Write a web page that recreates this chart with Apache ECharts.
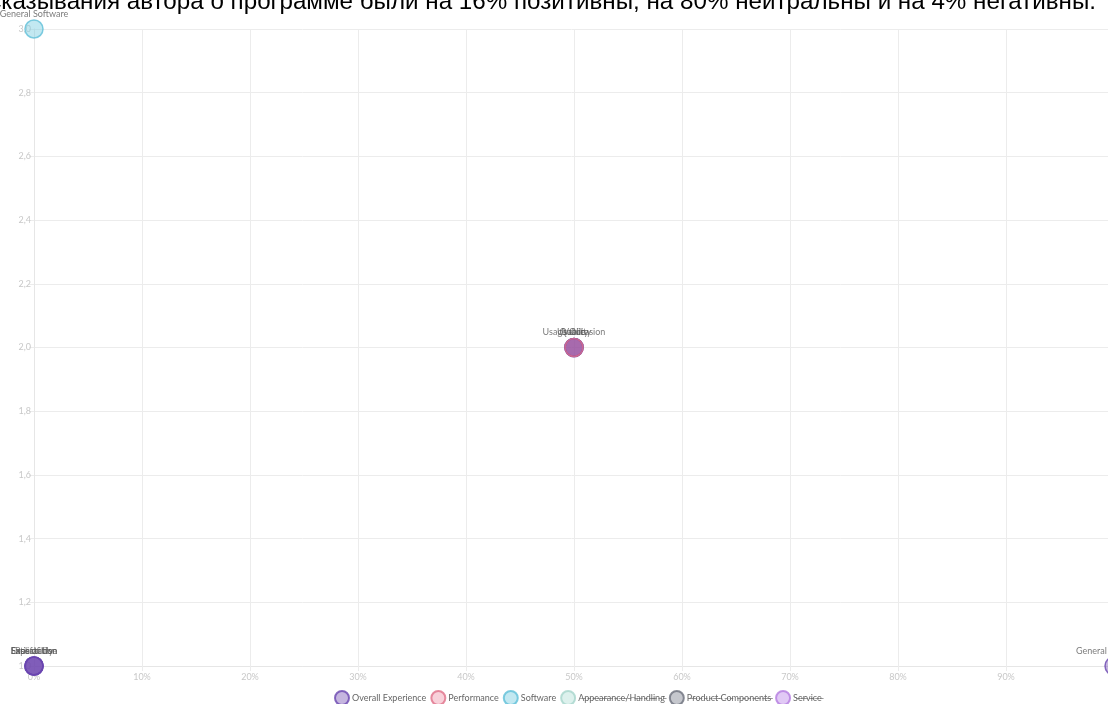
<!DOCTYPE html>
<html>
<head>
<meta charset="utf-8">
<script src="https://cdn.jsdelivr.net/npm/echarts@6/dist/echarts.min.js"></script>
<style>
  html, body { margin: 0; padding: 0; background: #fff; }
  #chart { width: 1108px; height: 704px; }
</style>
</head>
<body>
<div id="chart"></div>
<script>
const titleText = "Высказывания автора о программе были на 16% позитивны, на 80% нейтральны и на 4% негативны.";

const seriesNames = ["Overall Experience", "Performance", "Software", "Appearance/Handling", "Product Components", "Service"];
// hidden in the reference legend (struck through)
const hiddenSeries = ["Appearance/Handling", "Product Components", "Service"];

const overallLabels = ["Expectation", "Reliability", "Ease of Use", "Satisfaction", "Usability", "Quality", "Value", "General Impression"];
const overallX = [0, 0, 0, 0, 0.5, 0.5, 0.5, 1];
const overallY = [1, 1, 1, 1, 2, 2, 2, 1];

const performanceLabels = ["Usage Occasion"];
const performanceX = [0.5];
const performanceY = [2];

const softwareLabels = ["General Software"];
const softwareX = [0];
const softwareY = [3];

const xTicks = ["0%", "10%", "20%", "30%", "40%", "50%", "60%", "70%", "80%", "90%", "100%"];

const fills = ["rgba(110,70,175,0.5)", "rgba(230,100,130,0.37)", "rgba(128,206,226,0.6)",
               "rgba(170,220,210,0.5)", "rgba(110,115,130,0.5)", "rgba(180,120,230,0.5)"];
const borders = ["#6a46b0", "#e0708a", "#5fbfd8", "#a6d6cc", "#6b6f7c", "#b47ce0"];

function pts(labels, xs, ys) {
  return labels.map((n, i) => ({ name: n, value: [xs[i], ys[i]] }));
}

const seriesData = [
  pts(overallLabels, overallX, overallY),
  pts(performanceLabels, performanceX, performanceY),
  pts(softwareLabels, softwareX, softwareY),
  [], [], []
];

function strike(s) {
  return s.split("").map(c => c + "\u0336").join("");
}

const chart = echarts.init(document.getElementById("chart"));
chart.setOption({
  animation: false,
  title: {
    text: titleText,
    right: 7,
    top: -15,
    textStyle: { fontSize: 24.2, fontWeight: "normal", color: "#000", fontFamily: "Liberation Sans, Arial" }
  },
  grid: { left: 34, right: -6, top: 29, bottom: 38, containLabel: false, outerBoundsMode: "none" },
  xAxis: {
    type: "value",
    min: 0,
    max: 1,
    interval: 0.1,
    axisLine: { show: true, lineStyle: { color: "#e6e6e6" } },
    axisTick: { show: true, length: 5, lineStyle: { color: "#ececec" } },
    splitLine: { show: true, lineStyle: { color: "#ececec" } },
    axisLabel: {
      color: "#c8c8c8", fontSize: 9, fontFamily: "Lato", margin: 7, showMaxLabel: false,
      formatter: v => xTicks[Math.round(v * 10)]
    }
  },
  yAxis: {
    type: "value",
    min: 1,
    max: 3,
    interval: 0.2,
    axisLine: { show: true, lineStyle: { color: "#e6e6e6" } },
    axisTick: { show: true, length: 5, lineStyle: { color: "#ececec" } },
    splitLine: { show: true, lineStyle: { color: "#ececec" } },
    axisLabel: {
      color: "#c8c8c8", fontSize: 9, fontFamily: "Lato", margin: 3,
      formatter: v => v.toFixed(1).replace(".", ",")
    }
  },
  legend: {
    top: 685,
    left: 329,
    icon: "circle",
    itemWidth: 14,
    itemHeight: 14,
    itemGap: 4,
    data: seriesNames,
    textStyle: { color: "#666", fontSize: 9, fontFamily: "Lato", padding: [0, 0, 0, -2] },
    formatter: n => hiddenSeries.includes(n) ? strike(n) : n
  },
  series: seriesNames.map((name, i) => ({
    name: name,
    type: "scatter",
    z: 2 + i,
    symbolSize: 18,
    data: seriesData[i],
    itemStyle: { color: fills[i], borderColor: borders[i], borderWidth: 1.5 },
    label: {
      show: true,
      position: "top",
      distance: 1,
      fontSize: 9,
      fontFamily: "Lato",
      color: "#5a5a5a",
      formatter: p => p.name
    }
  }))
});
</script>
</body>
</html>
